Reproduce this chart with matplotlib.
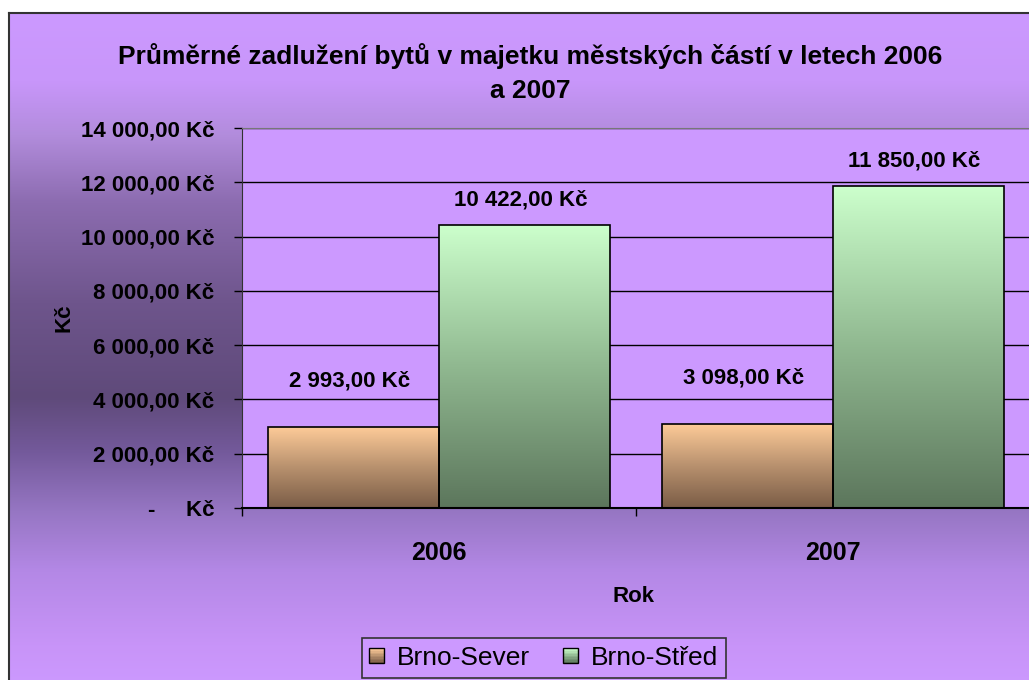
import matplotlib
matplotlib.use("Agg")
import matplotlib.pyplot as plt
from matplotlib.colors import LinearSegmentedColormap
from matplotlib.legend_handler import HandlerBase
from matplotlib.patches import Rectangle
import numpy as np

# --- data -------------------------------------------------------------
years = ["2006", "2007"]
series_names = ["Brno-Sever", "Brno-Střed"]
brno_sever = [2993.0, 3098.0]
brno_stred = [10422.0, 11850.0]
ytick_values = [0, 2000, 4000, 6000, 8000, 10000, 12000, 14000]

title = "Průměrné zadlužení bytů v majetku městských částí v letech 2006\na 2007"
x_label = "Rok"
y_label = "Kč"


def kc(v):
    if v == 0:
        return "-     Kč"
    s = f"{v:,.2f}".replace(",", " ").replace(".", ",")
    return s + " Kč"


W, H = 1029, 680
plt.rcParams["font.family"] = ["Liberation Sans", "DejaVu Sans"]

fig = plt.figure(figsize=(W / 100, H / 100), dpi=100)
fig.patch.set_facecolor("white")

# background with vertical purple gradient
bg_cmap = LinearSegmentedColormap.from_list("bg", [
    (0.00, "#cc99ff"), (0.10, "#c896fa"), (0.18, "#b28cdc"),
    (0.28, "#8c6cb0"), (0.43, "#6e558c"), (0.57, "#5f4a7a"),
    (0.65, "#73599a"), (0.74, "#9676c3"), (0.83, "#b488e6"),
    (0.94, "#c894f8"), (1.00, "#cc99ff")])
bg = fig.add_axes([9 / W, -0.01, 1.0, (H - 13) / H + 0.01], zorder=-10)
bg.imshow(np.linspace(0, 1, 256).reshape(-1, 1), cmap=bg_cmap,
          aspect="auto", extent=[0, 1, 0, 1])
bg.set_xlim(0, 1)
bg.set_ylim(0, 1)
bg.set_xticks([])
bg.set_yticks([])
for sp in bg.spines.values():
    sp.set_color("#333333")
    sp.set_linewidth(1.5)

# plot area
ax = fig.add_axes([242 / W, 1 - 508 / H, (1030 - 242) / W, 380 / H])
ax.set_facecolor("#cc99ff")

orange_cmap = LinearSegmentedColormap.from_list("or", ["#7a5c46", "#b8916e", "#ffcc99"])
green_cmap = LinearSegmentedColormap.from_list("gr", ["#5c765c", "#90b890", "#ccffcc"])

x = np.arange(len(years))
bw = 0.434
bars1 = ax.bar(x - bw / 2, brno_sever, bw, facecolor="none", edgecolor="black",
               linewidth=1.2, zorder=3)
bars2 = ax.bar(x + bw / 2, brno_stred, bw, facecolor="none", edgecolor="black",
               linewidth=1.2, zorder=3)

grad = np.linspace(0, 1, 256).reshape(-1, 1)
for bars, cmap in [(bars1, orange_cmap), (bars2, green_cmap)]:
    for p in bars.patches:
        x0, y0 = p.get_x(), p.get_y()
        im = ax.imshow(grad, cmap=cmap, origin="lower", aspect="auto",
                       extent=[x0, x0 + p.get_width(), y0, y0 + p.get_height()],
                       zorder=2)
        im.set_clip_path(p)

# value labels
for bars, vals, off in [(bars1, brno_sever, 33), (bars2, brno_stred, 18)]:
    for p, v in zip(bars.patches, vals):
        ax.annotate(kc(v), (p.get_x() + p.get_width() / 2 - 0.01, v),
                    xytext=(0, off), textcoords="offset points",
                    ha="center", va="center", fontsize=16, fontweight="bold")

ax.set_xlim(-0.5, 1.5)
ax.set_ylim(0, 14000)
ax.set_yticks(ytick_values)
ax.set_yticklabels([kc(v) for v in ytick_values], fontsize=16, fontweight="bold")
ax.yaxis.grid(True, color="black", linewidth=1.0)
ax.set_axisbelow(True)

ax.set_xticks([-0.5, 0.5, 1.5])
ax.set_xticklabels([])
ax.set_xticks(x, minor=True)
ax.set_xticklabels(years, minor=True, fontsize=18, fontweight="bold")
ax.tick_params(axis="x", which="minor", length=0, pad=24)
ax.tick_params(axis="x", which="major", length=6, width=1)
ax.tick_params(axis="y", length=6, width=1, pad=14)

ax.spines["right"].set_visible(False)
ax.spines["top"].set_color("#777777")
ax.spines["left"].set_color("#333333")
ax.spines["bottom"].set_color("black")
ax.spines["bottom"].set_linewidth(1.5)

ax.set_ylabel(y_label, fontsize=16, fontweight="bold")
ax.yaxis.set_label_coords((64 - 242) / 788, 0.5)
ax.yaxis.label.set_va("center")
ax.set_xlabel(x_label, fontsize=16, fontweight="bold")
ax.xaxis.set_label_coords((633 - 242) / 788, -(597 - 508) / 380)
ax.xaxis.label.set_va("center")

fig.text(530 / W, 1 - 73 / H, title, ha="center", va="center",
         fontsize=19, fontweight="bold", linespacing=1.5)


# legend with gradient squares
class GradHandler(HandlerBase):
    def __init__(self, cmap):
        super().__init__()
        self.cmap = cmap

    def create_artists(self, legend, orig_handle, xdescent, ydescent,
                       width, height, fontsize, trans):
        arts = []
        n = 10
        side = height
        x0 = -xdescent + (width - side) / 2
        y0 = -ydescent
        for i in range(n):
            c = self.cmap(i / (n - 1))
            arts.append(Rectangle((x0, y0 + i * side / n), side, side / n,
                                  facecolor=c, edgecolor="none", transform=trans))
        arts.append(Rectangle((x0, y0), side, side, facecolor="none",
                              edgecolor="black", linewidth=1, transform=trans))
        return arts


h1 = Rectangle((0, 0), 1, 1)
h2 = Rectangle((0, 0), 1, 1)
leg = fig.legend([h1, h2], series_names, loc="upper center",
                 bbox_to_anchor=(544 / W, 1 - 638 / H), bbox_transform=fig.transFigure,
                 ncol=2, fontsize=19, frameon=True, fancybox=False, borderaxespad=0,
                 handlelength=0.5, handleheight=0.5, handletextpad=0.5,
                 columnspacing=1.3, borderpad=0.3,
                 handler_map={h1: GradHandler(orange_cmap), h2: GradHandler(green_cmap)})
fr = leg.get_frame()
fr.set_facecolor("#cc99ff")
fr.set_edgecolor("#333333")
fr.set_alpha(1)
fr.set_linewidth(1.2)

fig.savefig("out.png", dpi=100)
